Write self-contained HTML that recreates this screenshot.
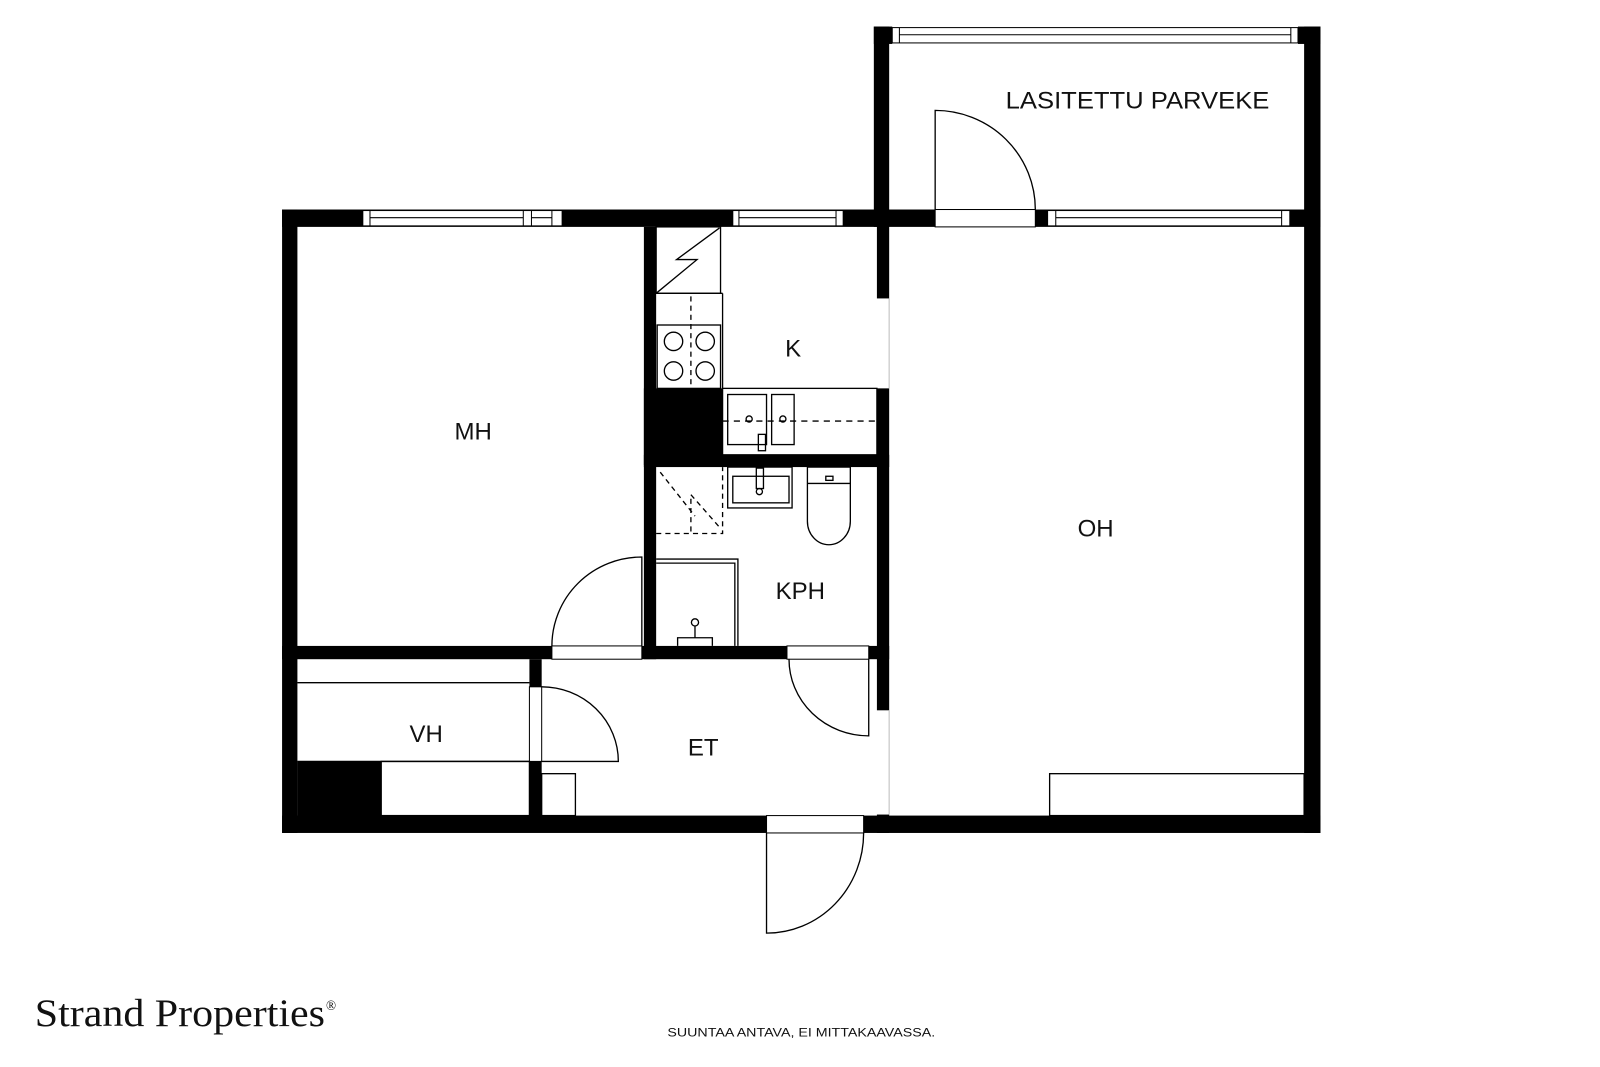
<!DOCTYPE html>
<html><head><meta charset="utf-8"><style>
html,body{margin:0;padding:0;background:#fff;}
svg{display:block;}
text{font-family:"Liberation Sans",sans-serif;fill:#111;}
</style></head><body>
<svg width="1600" height="1067" viewBox="0 0 1565.5 1044" preserveAspectRatio="none" xmlns="http://www.w3.org/2000/svg">
<rect x="0" y="0" width="1565.5" height="1044" fill="#fff"/>
<g fill="#000">
<rect x="855" y="26" width="15" height="196"/>
<rect x="1276" y="26" width="16" height="196"/>
<rect x="855" y="26" width="18" height="17"/>
<rect x="1270" y="26" width="22" height="17"/>
<rect x="276" y="205" width="1016" height="17"/>
<rect x="276" y="205" width="15" height="610"/>
<rect x="1276" y="205" width="16" height="610"/>
<rect x="276" y="798" width="1016" height="17"/>
<rect x="630" y="222" width="12" height="423"/>
<rect x="858" y="205" width="12" height="87"/>
<rect x="858" y="380" width="12" height="315"/>
<rect x="858" y="797" width="12" height="18"/>
<rect x="630" y="445" width="240" height="12"/>
<rect x="276" y="632" width="594" height="13"/>
<rect x="518" y="645" width="12" height="155"/>
<rect x="630" y="380" width="77" height="75"/>
<rect x="291" y="745" width="82" height="55"/>
</g>
<g fill="#fff" stroke="#000" stroke-width="1">
<rect x="355" y="206" width="195" height="15"/>
<line x1="362" y1="206" x2="362" y2="221"/><line x1="512" y1="206" x2="512" y2="221"/>
<line x1="520" y1="206" x2="520" y2="221"/><line x1="540" y1="206" x2="540" y2="221"/>
<line x1="362" y1="213" x2="512" y2="213"/><line x1="520" y1="213" x2="540" y2="213"/>
<rect x="717" y="206" width="108" height="15"/>
<line x1="723" y1="206" x2="723" y2="221"/><line x1="818" y1="206" x2="818" y2="221"/>
<line x1="723" y1="213" x2="818" y2="213"/>
<rect x="873" y="27" width="397" height="15"/>
<line x1="880" y1="27" x2="880" y2="42"/><line x1="1263" y1="27" x2="1263" y2="42"/>
<line x1="880" y1="34" x2="1263" y2="34"/>
<rect x="1025" y="206" width="237" height="15"/>
<line x1="1033" y1="206" x2="1033" y2="221"/><line x1="1254" y1="206" x2="1254" y2="221"/>
<line x1="1033" y1="213" x2="1254" y2="213"/>
<rect x="915" y="205" width="98" height="17"/>
<rect x="540" y="632" width="88" height="13"/>
<rect x="770" y="632" width="80" height="13"/>
<rect x="750" y="798" width="95" height="17"/>
<rect x="518" y="672" width="12" height="73"/>
</g>
<g fill="none" stroke="#000" stroke-width="1.3">
<path d="M915 205 V108 A98 97 0 0 1 1013 205"/>
<path d="M628 632 V545 A88 87 0 0 0 540 632"/>
<path d="M850 645 V720 A78 75 0 0 1 772 645"/>
<path d="M530 745 H605 A75 73 0 0 0 530 672"/>
<path d="M750 815 V913 A95 98 0 0 0 845 815"/>
<rect x="642" y="222" width="63" height="65"/>
<path d="M642 287 L682 254 H662 L704 223"/>
<rect x="643" y="318" width="62" height="62"/>
<line x1="642" y1="287" x2="707" y2="287"/>
<line x1="707" y1="287" x2="707" y2="380"/>
<circle cx="659" cy="334" r="9"/><circle cx="690" cy="334" r="9"/>
<circle cx="659" cy="363" r="9"/><circle cx="690" cy="363" r="9"/>
<line x1="676" y1="290" x2="676" y2="380" stroke-dasharray="5,4"/>
<rect x="707" y="380" width="151" height="65"/>
<rect x="712" y="386" width="38" height="49"/>
<rect x="755" y="386" width="22" height="49"/>
<rect x="742" y="425" width="7" height="16"/>
<circle cx="733" cy="410" r="3"/><circle cx="766" cy="410" r="3"/>
<line x1="707" y1="412" x2="856" y2="412" stroke-dasharray="6,5"/>
<path d="M642 522 H707 V457" stroke-dasharray="5,4"/>
<path d="M646 462 L680 505 M676 520 V484 L705 517" stroke-dasharray="5,4"/>
<rect x="712" y="457" width="63" height="40"/>
<rect x="717" y="466" width="55" height="26"/>
<rect x="740" y="458" width="7" height="20"/>
<circle cx="743" cy="481" r="3"/>
<path d="M790 457 H832 V510 A21 23 0 0 1 790 510 Z"/>
<line x1="790" y1="473" x2="832" y2="473"/>
<rect x="808" y="466" width="7" height="4"/>
<path d="M642 547 H722 V632 M642 551 H719 V632"/>
<path d="M663 632 V624 H697 V632 M680 624 V612"/>
<circle cx="680" cy="609" r="3.5"/>
<line x1="291" y1="668" x2="518" y2="668"/>
<line x1="291" y1="745" x2="518" y2="745"/>
<rect x="373" y="745" width="145" height="53"/>
<rect x="530" y="757" width="33" height="41"/>
<rect x="1027" y="757" width="249" height="41"/>
<line x1="870" y1="292" x2="870" y2="380" stroke="#ccc"/>
<line x1="870" y1="695" x2="870" y2="797" stroke="#ccc"/>
</g>
<g font-size="23.5" text-anchor="middle">
<text x="1113" y="106" textLength="258" lengthAdjust="spacingAndGlyphs">LASITETTU PARVEKE</text>
<text x="463" y="430">MH</text>
<text x="776" y="349">K</text>
<text x="1072" y="525">OH</text>
<text x="783" y="586">KPH</text>
<text x="417" y="726">VH</text>
<text x="688" y="739">ET</text>
</g>
<text x="34" y="1004" font-size="38" style="font-family:'Liberation Serif',serif" textLength="284" lengthAdjust="spacingAndGlyphs">Strand Properties</text>
<text x="319" y="988" font-size="13" style="font-family:'Liberation Serif',serif">®</text>
<text x="653" y="1014" font-size="12" textLength="262" lengthAdjust="spacingAndGlyphs">SUUNTAA ANTAVA, EI MITTAKAAVASSA.</text>
</svg>
</body></html>
